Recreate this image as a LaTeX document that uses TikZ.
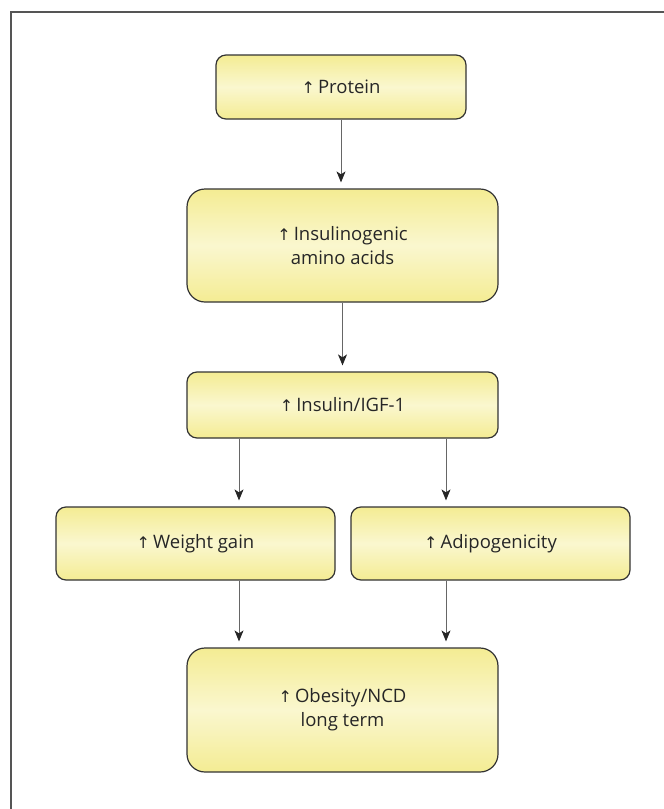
\documentclass[tikz,border=0pt]{standalone}
\usepackage{fontspec}
\setmainfont{Open Sans}
\newfontfamily\arrowfont{DejaVu Sans}
\usetikzlibrary{arrows.meta}
\definecolor{boxedge}{HTML}{333333}
\definecolor{yelA}{HTML}{F4EC93}
\definecolor{yelB}{HTML}{FAF7CF}
\definecolor{lineg}{HTML}{666666}
\definecolor{frameg}{HTML}{555555}
\definecolor{tipc}{HTML}{262626}
\newcommand{\upar}{{\arrowfont\fontsize{16}{16}\selectfont ↑}\,}
\tikzset{
  fbox/.style={draw=boxedge, line width=1.2pt, top color=yelA, bottom color=yelA, middle color=yelB,
    inner sep=0pt, align=center, font=\fontsize{18.5}{24}\selectfont, text=black!85},
  arr/.style={draw=lineg, line width=0.9pt, shorten >=6pt,
    -{Stealth[length=11pt,width=9pt,inset=3pt,color=tipc,fill=tipc]}}
}
\begin{document}
\begin{tikzpicture}[x=1pt,y=-1pt]
\useasboundingbox (0,0) rectangle (664,809);
\draw[frameg, line width=1.6pt] (11,809) -- (11,12) -- (664,12);
\coordinate (xl) at (239,0);
\coordinate (xr) at (446,0);
\node[fbox, rounded corners=10pt, minimum width=250pt, minimum height=64pt] (prot) at (341,87) {\upar Protein};
\node[fbox, rounded corners=18pt, minimum width=311pt, minimum height=113pt] (amino) at (342.5,245.5) {\upar Insulinogenic\\amino acids};
\node[fbox, rounded corners=10pt, minimum width=311pt, minimum height=66pt] (igf) at (342.5,405) {\upar Insulin/IGF-1};
\node[fbox, rounded corners=10pt, minimum width=279pt, minimum height=73pt] (wg) at (195.5,543.5) {\upar Weight gain};
\node[fbox, rounded corners=10pt, minimum width=279pt, minimum height=73pt] (adi) at (490.5,543.5) {\upar Adipogenicity};
\node[fbox, rounded corners=18pt, minimum width=311pt, minimum height=124pt] (obe) at (342.5,710) {\upar Obesity/NCD\\long term};
\draw[arr] (prot.south) -- (prot.south |- amino.north);
\draw[arr] (amino.south) -- (igf.north);
\draw[arr] (igf.south -| xl) -- (wg.north -| xl);
\draw[arr] (igf.south -| xr) -- (adi.north -| xr);
\draw[arr] (wg.south -| xl) -- (obe.north -| xl);
\draw[arr] (adi.south -| xr) -- (obe.north -| xr);
\end{tikzpicture}
\end{document}
